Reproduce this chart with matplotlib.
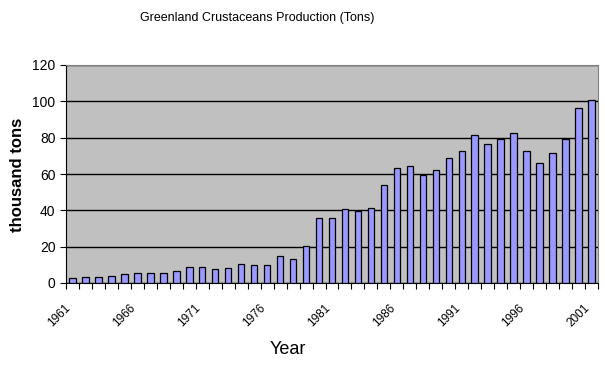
import numpy as np
import matplotlib
matplotlib.use("Agg")
import matplotlib.pyplot as plt
import matplotlib.transforms as mtransforms

plt.rcParams['font.family'] = ['Liberation Sans', 'DejaVu Sans']

years = list(range(1961, 2002))
production = [2.6, 3.1, 3.1, 3.8, 4.9, 5.5, 5.5, 5.5, 6.6, 8.8,
              8.6, 7.7, 8.2, 10.4, 9.9, 9.9, 14.8, 13.2, 20.3, 35.6,
              35.6, 40.6, 39.4, 41.1, 53.8, 63.5, 64.6, 59.6, 62.0, 69.0,
              72.5, 81.3, 76.3, 79.4, 82.4, 72.5, 65.9, 71.4, 79.4, 96.1,
              100.6]
label_years = [1961, 1966, 1971, 1976, 1981, 1986, 1991, 1996, 2001]

fig = plt.figure(figsize=(6.05, 3.72), dpi=100)
ax = fig.add_axes([66 / 605, 89 / 372, 532 / 605, 218 / 372])
ax.set_facecolor('#C0C0C0')

x = np.arange(len(years))
ax.bar(x, production, width=0.5, color='#9999FF', edgecolor='black',
       linewidth=0.9, zorder=3)

ax.set_xlim(-0.5, len(years) - 0.5)
ax.set_ylim(0, 120)
ax.set_yticks(range(0, 121, 20))
ax.yaxis.grid(True, color='black', linewidth=1.0, zorder=1)
ax.tick_params(axis='y', labelsize=10, length=4, width=0.8, direction='out')

# tick marks between categories, labels every 5 years
ax.set_xticks(np.arange(-0.5, len(years), 1.0), minor=True)
ax.set_xticks([years.index(y) for y in label_years])
ax.set_xticklabels([str(y) for y in label_years], rotation=45,
                   ha='right', rotation_mode='anchor', fontsize=8.5)
ax.tick_params(axis='x', which='major', length=0, pad=14)
ax.tick_params(axis='x', which='minor', length=4, width=0.8)
offset = mtransforms.ScaledTranslation(-8 / 100, 0, fig.dpi_scale_trans)
for lab in ax.get_xticklabels():
    lab.set_transform(lab.get_transform() + offset)

for side in ['top', 'right']:
    ax.spines[side].set_color('#808080')
for side in ['left', 'bottom']:
    ax.spines[side].set_color('black')

fig.text(257 / 605, 1 - 18 / 372, 'Greenland Crustaceans Production (Tons)',
         ha='center', va='center', fontsize=9)
fig.text(288 / 605, 1 - 350 / 372, 'Year', ha='center', va='center',
         fontsize=13)
fig.text(18 / 605, 1 - 175 / 372, 'thousand tons', ha='center', va='center',
         rotation=90, fontsize=12, fontweight='bold')

fig.savefig('out.png', dpi=100)
